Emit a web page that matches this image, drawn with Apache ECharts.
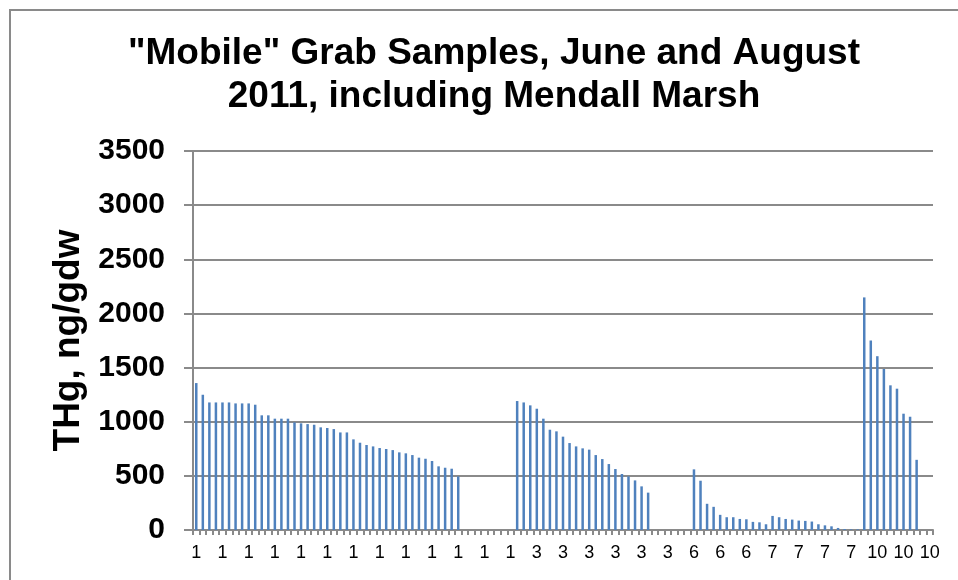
<!DOCTYPE html>
<html>
<head>
<meta charset="utf-8">
<title>Mobile Grab Samples</title>
<script src="https://cdn.jsdelivr.net/npm/echarts@6/dist/echarts.min.js"></script>
<style>
  html, body { margin: 0; padding: 0; background: #fff; }
  #chart { width: 958px; height: 580px; }
</style>
</head>
<body>
<div id="chart"></div>
<script>
// THg per sample, grouped by site label (null = empty row in the sheet)
const site1 = [1357, 1249, 1178, 1178, 1178, 1178, 1169, 1169, 1169, 1157,
  1059, 1059, 1028, 1028, 1028, 994, 985, 978, 972, 948,
  942, 932, 901, 901, 837, 806, 785, 772, 757, 748,
  738, 717, 708, 692, 668, 658, 637, 588, 575, 566,
  495, null, null, null, null, null, null, null, null];
const site3 = [1191, 1178, 1151, 1120, 1028, 926, 911, 862, 803, 772,
  754, 742, 692, 655, 609, 563, 517, 495, 458, 403,
  345, null, null, null, null, null, null];
const site6 = [560, 455, 242, 214, 140, 118, 118, 102, 99, 75, 71, 53];
const site7 = [130, 118, 102, 96, 87, 84, 78, 53, 43, 34, 19, 9, 6, 6];
const site10 = [2148, 1750, 1605, 1487, 1336, 1305, 1074, 1046, 648, null, null];

const siteLabels = ['1', '3', '6', '7', '10'];
const yTicks = [0, 500, 1000, 1500, 2000, 2500, 3000, 3500];

const blocks = [site1, site3, site6, site7, site10];
const categories = blocks.flatMap((b, k) => b.map(() => siteLabels[k]));
const values = blocks.flat();

const gray = '#8a8a8a';
const font = 'Liberation Sans, Arial, sans-serif';

const myChart = echarts.init(document.getElementById('chart'));
const option = {
  animation: false,
  title: {
    text: '"Mobile" Grab Samples, June and August\n2011, including Mendall Marsh',
    left: 489,
    textAlign: 'center',
    top: 27,
    textStyle: {
      fontFamily: font,
      fontSize: 37,
      fontWeight: 'bold',
      color: '#000',
      lineHeight: 43,
    },
  },
  graphic: [
    {
      type: 'rect',
      shape: { x: 10, y: 10, width: 1000, height: 1000 },
      style: { fill: 'none', stroke: gray, lineWidth: 2 },
      silent: true,
    },
  ],
  grid: {
    left: 193,
    right: 25,
    top: 151,
    bottom: 50,
    outerBoundsMode: 'none',
  },
  xAxis: {
    type: 'category',
    data: categories,
    boundaryGap: true,
    axisLine: { show: true, lineStyle: { color: gray, width: 2 } },
    axisTick: { show: true, interval: 0, length: 5, lineStyle: { color: gray, width: 2 } },
    axisLabel: {
      interval: 3,
      margin: 14,
      fontFamily: font,
      fontSize: 18,
      color: '#000',
      hideOverlap: false,
    },
    splitLine: { show: false },
  },
  yAxis: {
    type: 'value',
    min: yTicks[0],
    max: yTicks[yTicks.length - 1],
    interval: yTicks[1] - yTicks[0],
    name: 'THg, ng/gdw',
    nameLocation: 'middle',
    nameGap: 97,
    nameRotate: 90,
    nameTextStyle: {
      fontFamily: font,
      fontSize: 37,
      fontWeight: 'bold',
      color: '#000',
    },
    axisLine: { show: true, lineStyle: { color: gray, width: 2 } },
    axisTick: { show: true, length: 9, lineStyle: { color: gray, width: 2 } },
    axisLabel: {
      margin: 28,
      fontFamily: font,
      fontSize: 30,
      fontWeight: 'bold',
      color: '#000',
      formatter: (v) => String(v),
    },
    splitLine: { show: true, lineStyle: { color: gray, width: 2 } },
  },
  series: [
    {
      type: 'bar',
      data: values,
      barWidth: 2.5,
      itemStyle: { color: '#4f81bd' },
    },
  ],
};
myChart.setOption(option);
</script>
</body>
</html>
